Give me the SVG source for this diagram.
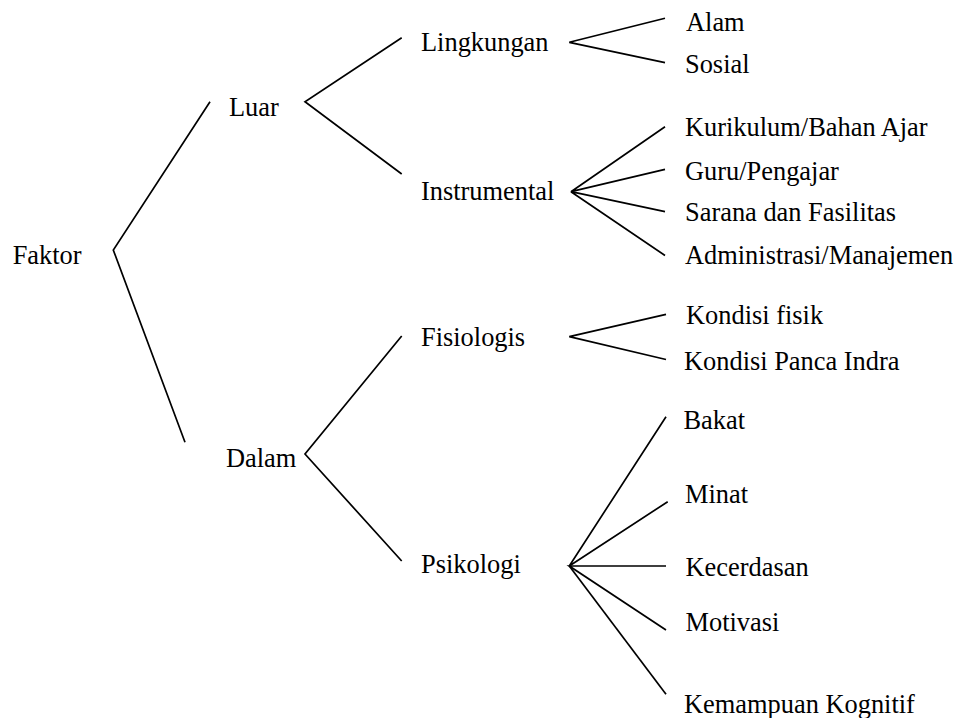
<svg xmlns="http://www.w3.org/2000/svg" width="960" height="718" viewBox="0 0 960 718">
<style>
.t{font-family:'Liberation Serif','Times New Roman',Times,serif;font-size:26.4px;fill:#000}
.c{fill:none;stroke:#000;stroke-width:1.7;stroke-linejoin:miter}
</style>
<rect width="960" height="718" fill="#fff"/>
<g id="connectors">
<polyline class="c" points="210,101.7 113.3,250 185,442.3"/>
<polyline class="c" points="401.7,37.7 305,101.7 401.7,174"/>
<polyline class="c" points="401.7,336 305,454 401.7,561"/>
<polyline class="c" points="665,18.3 569.3,42.3 665,62.7"/>
<polyline class="c" points="665,126.7 571,191.7 665,169.3"/>
<polyline class="c" points="665,211.7 571,191.7 665,255.5"/>
<polyline class="c" points="666,314.3 569.3,336.7 666,359.5"/>
<polyline class="c" points="666,416.7 569.3,566 667.7,501.7"/>
<polyline class="c" points="666,566 569.3,566 666,630"/>
<polyline class="c" points="569.3,566 666,694.3"/>
</g>
<g class="t">
<g id="faktor"><text x="12.7" y="264">Faktor</text></g>
<g id="luar"><text x="229" y="115.5">Luar</text></g>
<g id="dalam"><text x="226" y="466.5">Dalam</text></g>
<g id="lingkungan"><text x="421" y="50.7">Lingkungan</text></g>
<g id="instrumental"><text x="421" y="200">Instrumental</text></g>
<g id="fisiologis"><text x="421" y="346">Fisiologis</text></g>
<g id="psikologi"><text x="421" y="573.3">Psikologi</text></g>
<g id="alam"><text x="686" y="30.7">Alam</text></g>
<g id="sosial"><text x="685" y="73.3">Sosial</text></g>
<g id="kurikulum"><text x="685" y="135.7">Kurikulum/Bahan Ajar</text></g>
<g id="guru"><text x="685" y="180">Guru/Pengajar</text></g>
<g id="sarana"><text x="685" y="221.3">Sarana dan Fasilitas</text></g>
<g id="administrasi"><text x="685" y="264">Administrasi/Manajemen</text></g>
<g id="kondisi-fisik"><text x="686" y="324.3">Kondisi fisik</text></g>
<g id="kondisi-panca"><text x="684" y="370">Kondisi Panca Indra</text></g>
<g id="bakat"><text x="683.5" y="429.3">Bakat</text></g>
<g id="minat"><text x="685" y="502.7">Minat</text></g>
<g id="kecerdasan"><text x="685.5" y="575.7">Kecerdasan</text></g>
<g id="motivasi"><text x="685.5" y="630.7">Motivasi</text></g>
<g id="kemampuan"><text x="684" y="713.3">Kemampuan Kognitif</text></g>
</g>
</svg>
